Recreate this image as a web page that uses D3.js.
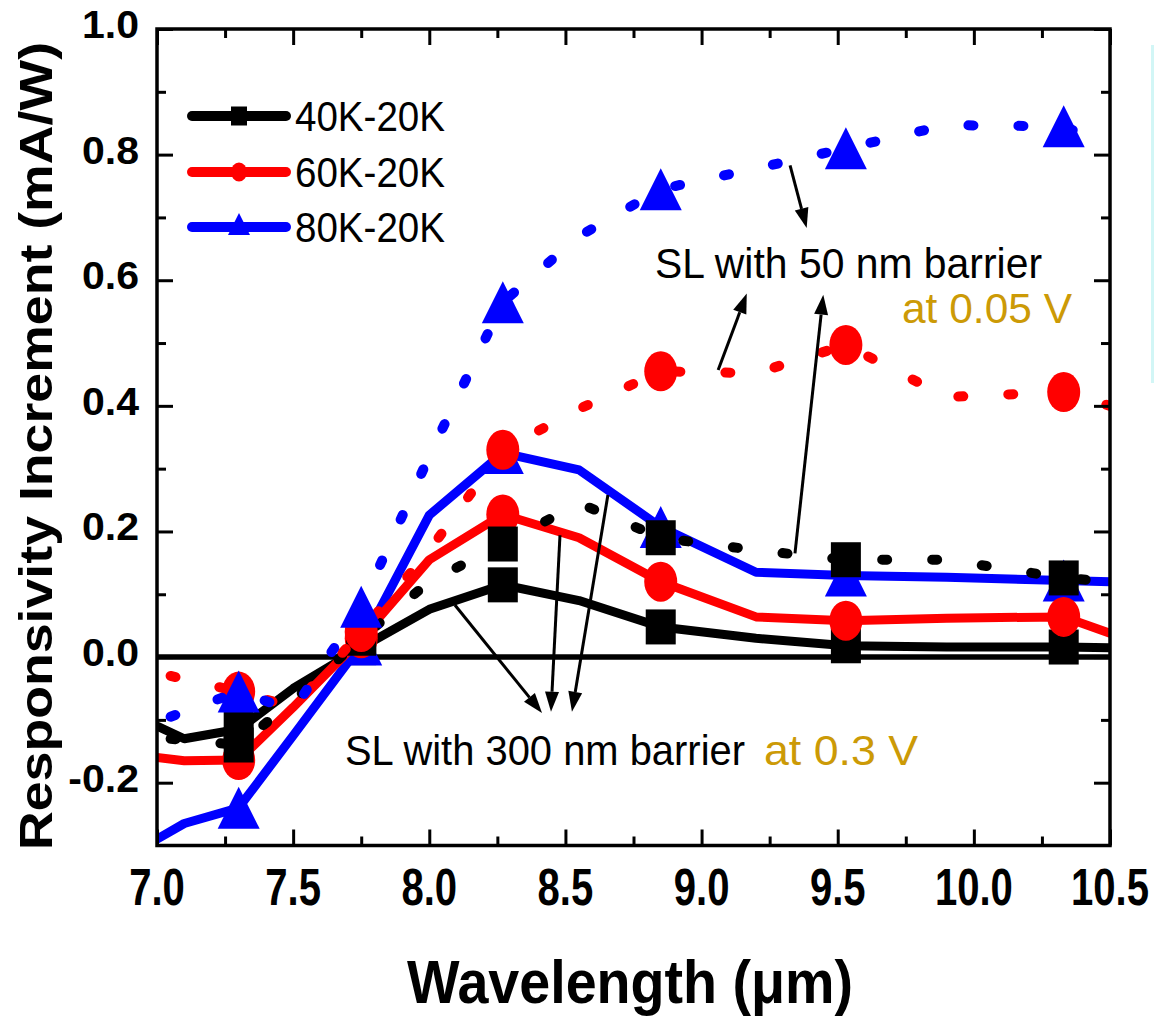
<!DOCTYPE html>
<html><head><meta charset="utf-8">
<script src="https://cdn.jsdelivr.net/npm/d3@7/dist/d3.min.js"></script>
<style>body{margin:0;background:#fff}svg{display:block}</style>
</head><body>
<svg id="chart" width="1155" height="1016"></svg>
<script>
// ---------------- data ----------------
const wavelengths = [7.0, 7.1, 7.3, 7.5, 7.75, 8.0, 8.27, 8.55, 8.85, 9.2, 9.53, 9.9, 10.33, 10.5];
const wavelengths50 = [7.05, 7.3, 7.5, 7.75, 8.0, 8.27, 8.55, 8.85, 9.2, 9.53, 9.9, 10.33, 10.5];
const markerWavelengths = [7.3, 7.75, 8.27, 8.85, 9.53, 10.33];
// SL with 300 nm barrier at 0.3 V (solid lines)
const sl300_40K = [-0.11, -0.13, -0.115, -0.05, 0.015, 0.076, 0.115, 0.09, 0.048, 0.03, 0.018, 0.016, 0.016, 0.015];
const sl300_60K = [-0.16, -0.165, -0.164, -0.08, 0.03, 0.155, 0.227, 0.19, 0.12, 0.064, 0.058, 0.062, 0.064, 0.038];
const sl300_80K = [-0.29, -0.265, -0.24, -0.125, 0.02, 0.226, 0.325, 0.298, 0.207, 0.135, 0.13, 0.127, 0.122, 0.12];
// SL with 50 nm barrier at 0.05 V (dotted lines)
const sl50_40K = [-0.13, -0.14, -0.07, 0.03, 0.12, 0.18, 0.245, 0.19, 0.17, 0.155, 0.155, 0.126, 0.12];
const sl50_60K = [-0.03, -0.055, -0.08, 0.04, 0.17, 0.33, 0.395, 0.455, 0.452, 0.497, 0.414, 0.422, 0.40];
const sl50_80K = [-0.095, -0.055, -0.085, 0.08, 0.32, 0.565, 0.67, 0.745, 0.778, 0.81, 0.847, 0.845, 0.815];
const seriesNames = ["40K-20K", "60K-20K", "80K-20K"];
const seriesColors = ["#000000", "#ff0000", "#0000ff"];
const seriesShapes = ["square", "circle", "triangle"];
const xTickValues = [7.0, 7.5, 8.0, 8.5, 9.0, 9.5, 10.0, 10.5];
const xTickLabels = ["7.0", "7.5", "8.0", "8.5", "9.0", "9.5", "10.0", "10.5"];
const xMinorTicks = [7.25, 7.75, 8.25, 8.75, 9.25, 9.75, 10.25];
const yTickValues = [-0.2, 0.0, 0.2, 0.4, 0.6, 0.8, 1.0];
const yTickLabels = ["-0.2", "0.0", "0.2", "0.4", "0.6", "0.8", "1.0"];
const yMinorTicks = [-0.1, 0.1, 0.3, 0.5, 0.7, 0.9];

// ---------------- setup ----------------
const FONT = "'Liberation Sans', Arial, Helvetica, sans-serif";
const svg = d3.select("#chart");
const L = 157, R = 1110, T = 29, B = 845.5;
const x = d3.scaleLinear().domain([7.0, 10.5]).range([L, R]);
const y = d3.scaleLinear().domain([-0.3, 1.0]).range([B, T]);

svg.append("rect").attr("width", 1155).attr("height", 1016).attr("fill", "#fff");
// faint cyan edge at right
svg.append("rect").attr("x", 1151).attr("y", 45).attr("width", 3).attr("height", 338).attr("fill", "#d2f6f6");

svg.append("defs").append("clipPath").attr("id", "plotclip")
  .append("rect").attr("x", L).attr("y", T).attr("width", R - L).attr("height", B - T);

// zero reference line
svg.append("line").attr("x1", x(7.0)).attr("x2", x(10.5)).attr("y1", y(0)).attr("y2", y(0))
  .attr("stroke", "#000").attr("stroke-width", 5.5);

// ---------------- series ----------------
function drawMarker(g, shape, cx, cy, color) {
  if (shape === "square") {
    g.append("rect").attr("x", cx - 15).attr("y", cy - 17.5)
      .attr("width", 30).attr("height", 35).attr("fill", color);
  } else if (shape === "circle") {
    g.append("ellipse").attr("cx", cx).attr("cy", cy).attr("rx", 16.5).attr("ry", 20).attr("fill", color);
  } else {
    const h = 21;
    g.append("path").attr("d", `M${cx},${cy - h}L${cx + h},${cy + h}L${cx - h},${cy + h}Z`).attr("fill", color);
  }
}

const plotG = svg.append("g").attr("clip-path", "url(#plotclip)");
const drawOrder = [
  { w: wavelengths, v: sl300_40K, k: 0, dotted: false },
  { w: wavelengths, v: sl300_80K, k: 2, dotted: false },
  { w: wavelengths, v: sl300_60K, k: 1, dotted: false },
  { w: wavelengths50, v: sl50_40K, k: 0, dotted: true },
  { w: wavelengths50, v: sl50_60K, k: 1, dotted: true },
  { w: wavelengths50, v: sl50_80K, k: 2, dotted: true },
];
const line = d3.line().x(d => x(d[0])).y(d => y(d[1]));
drawOrder.forEach(s => {
  const pts = s.w.map((w, i) => [w, s.v[i]]);
  const g = plotG.append("g");
  const p = g.append("path").attr("d", line(pts)).attr("fill", "none")
    .attr("stroke", seriesColors[s.k]).attr("stroke-width", s.dotted ? 10 : 9)
    .attr("stroke-linejoin", "round").attr("stroke-linecap", "round");
  if (s.dotted) p.attr("stroke-dasharray", "5 45");
  markerWavelengths.forEach(mw => {
    const i = s.w.indexOf(mw);
    drawMarker(g, seriesShapes[s.k], x(mw), y(s.v[i]), seriesColors[s.k]);
  });
});

// ---------------- axes ----------------
function styleAxis(g) {
  g.select(".domain").remove();
  g.selectAll(".tick line").attr("stroke", "#000").attr("stroke-width", 3);
  g.selectAll(".tick text").remove();
}
svg.append("g").attr("transform", `translate(0,${B})`)
  .call(d3.axisBottom(x).tickValues(xTickValues).tickSize(-16).tickFormat("")).call(styleAxis);
svg.append("g").attr("transform", `translate(0,${B})`)
  .call(d3.axisBottom(x).tickValues(xMinorTicks).tickSize(-9).tickFormat("")).call(styleAxis);
svg.append("g").attr("transform", `translate(0,${T})`)
  .call(d3.axisTop(x).tickValues(xTickValues).tickSize(-16).tickFormat("")).call(styleAxis);
svg.append("g").attr("transform", `translate(0,${T})`)
  .call(d3.axisTop(x).tickValues(xMinorTicks).tickSize(-9).tickFormat("")).call(styleAxis);
svg.append("g").attr("transform", `translate(${L},0)`)
  .call(d3.axisLeft(y).tickValues(yTickValues).tickSize(-16).tickFormat("")).call(styleAxis);
svg.append("g").attr("transform", `translate(${L},0)`)
  .call(d3.axisLeft(y).tickValues(yMinorTicks).tickSize(-9).tickFormat("")).call(styleAxis);
svg.append("g").attr("transform", `translate(${R},0)`)
  .call(d3.axisRight(y).tickValues(yTickValues).tickSize(-16).tickFormat("")).call(styleAxis);
svg.append("g").attr("transform", `translate(${R},0)`)
  .call(d3.axisRight(y).tickValues(yMinorTicks).tickSize(-9).tickFormat("")).call(styleAxis);

svg.append("rect").attr("x", L).attr("y", T).attr("width", R - L).attr("height", B - T)
  .attr("fill", "none").attr("stroke", "#000").attr("stroke-width", 3.5);

// tick labels
svg.append("g").selectAll("text").data(xTickValues).join("text")
  .attr("transform", d => `translate(${x(d)},905) scale(0.77,1)`)
  .attr("text-anchor", "middle").attr("font-family", FONT).attr("font-weight", "bold")
  .attr("font-size", 52).attr("fill", "#000").text((d, i) => xTickLabels[i]);
svg.append("g").selectAll("text").data(yTickValues).join("text")
  .attr("transform", d => `translate(139,${y(d) + 9}) scale(1.08,1)`)
  .attr("text-anchor", "end").attr("font-family", FONT).attr("font-weight", "bold")
  .attr("font-size", 38).attr("fill", "#000").text((d, i) => yTickLabels[i]);

// axis titles
svg.append("text").attr("x", 630).attr("y", 1003).attr("text-anchor", "middle")
  .attr("font-family", FONT).attr("font-weight", "bold").attr("font-size", 62)
  .attr("textLength", 446).attr("lengthAdjust", "spacingAndGlyphs").text("Wavelength (\u03bcm)");
svg.append("text").attr("transform", "translate(52,446) rotate(-90)").attr("text-anchor", "middle")
  .attr("font-family", FONT).attr("font-weight", "bold").attr("font-size", 46)
  .attr("textLength", 808).attr("lengthAdjust", "spacingAndGlyphs").text("Responsivity Increment (mA/W)");

// ---------------- legend ----------------
const legendY = [116, 172, 227];
seriesNames.forEach((name, k) => {
  const g = svg.append("g");
  g.append("line").attr("x1", 192).attr("x2", 286).attr("y1", legendY[k]).attr("y2", legendY[k])
    .attr("stroke", seriesColors[k]).attr("stroke-width", 10).attr("stroke-linecap", "round");
  if (seriesShapes[k] === "triangle") {
    g.append("path").attr("d", `M239,${legendY[k] - 14}L250,${legendY[k] + 8}L228,${legendY[k] + 8}Z`).attr("fill", seriesColors[k]);
  } else if (seriesShapes[k] === "circle") {
    g.append("ellipse").attr("cx", 239).attr("cy", legendY[k]).attr("rx", 8).attr("ry", 9.5).attr("fill", seriesColors[k]);
  } else {
    g.append("rect").attr("x", 231).attr("y", legendY[k] - 9.5).attr("width", 16).attr("height", 19).attr("fill", seriesColors[k]);
  }
  g.append("text").attr("x", 295).attr("y", legendY[k] + 15).attr("font-family", FONT)
    .attr("font-size", 42).attr("textLength", 150).attr("lengthAdjust", "spacingAndGlyphs")
    .attr("fill", "#000").text(name);
});

// ---------------- annotations ----------------
function ann(txt, x0, yb, len, color) {
  svg.append("text").attr("x", x0).attr("y", yb).attr("font-family", FONT).attr("font-size", 43)
    .attr("textLength", len).attr("lengthAdjust", "spacingAndGlyphs").attr("fill", color).text(txt);
}
ann("SL with 50 nm barrier", 655, 278, 387, "#000");
ann("at 0.05 V", 902, 323, 170, "#cc9a06");
ann("SL with 300 nm barrier", 345, 765, 400, "#000");
ann("at 0.3 V", 764, 765, 154, "#cc9a06");

const arrows = [
  [[9.325, 0.783], [9.386, 0.683]],
  [[9.061, 0.457], [9.166, 0.579]],
  [[9.343, 0.165], [9.447, 0.577]],
  [[8.094, 0.083], [8.414, -0.089]],
  [[8.480, 0.194], [8.447, -0.087]],
  [[8.656, 0.258], [8.524, -0.087]],
];
arrows.forEach(([a, b]) => {
  const x1 = x(a[0]), y1 = y(a[1]), x2 = x(b[0]), y2 = y(b[1]);
  const ang = Math.atan2(y2 - y1, x2 - x1);
  const hl = 20, hw = 7;
  const bx = x2 - hl * Math.cos(ang), by = y2 - hl * Math.sin(ang);
  svg.append("line").attr("x1", x1).attr("y1", y1).attr("x2", bx).attr("y2", by)
    .attr("stroke", "#000").attr("stroke-width", 3);
  const px = -Math.sin(ang) * hw, py = Math.cos(ang) * hw;
  svg.append("path").attr("d", `M${x2},${y2}L${bx + px},${by + py}L${bx - px},${by - py}Z`).attr("fill", "#000");
});
</script>
</body></html>
